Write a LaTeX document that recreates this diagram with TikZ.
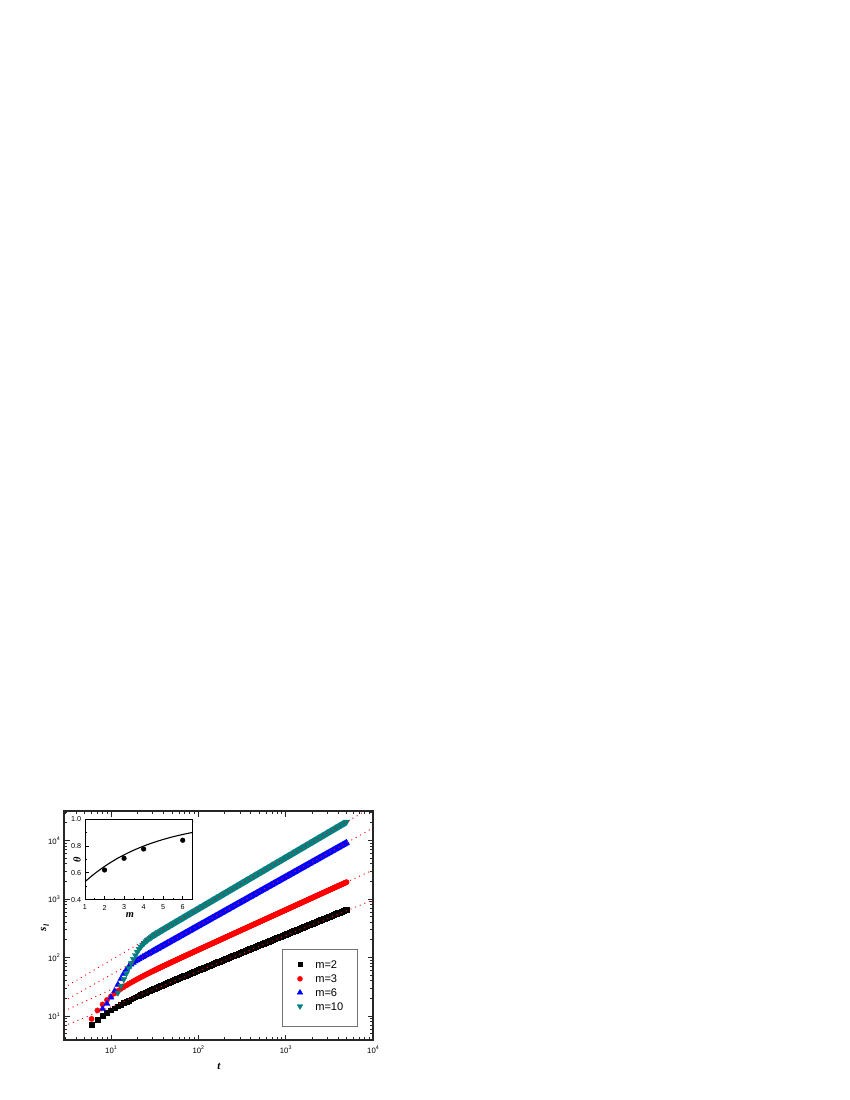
\documentclass[tikz,border=0pt]{standalone}
\usepackage{fontspec}
\usetikzlibrary{plotmarks}
\setmainfont{Liberation Sans}
\newfontfamily\lserif{Liberation Serif}
\definecolor{tealc}{RGB}{0,128,128}
\newcommand\tenp[1]{10\raisebox{0.42em}{\fontsize{3.8}{4}\selectfont #1}}
\tikzset{
  axisline/.style={line width=0.8pt, draw=black!85},
  tickline/.style={line width=0.6pt, draw=black!85},
  sqm/.style={only marks, mark=square*, mark size=1.7pt, mark options={draw=black, fill=black, line width=0.3pt}},
  cim/.style={only marks, mark=*, mark size=1.9pt, mark options={draw=red, fill=red, line width=0.3pt}},
  tum/.style={only marks, mark=triangle*, mark size=2.5pt, mark options={draw=blue, fill=blue, line width=0.3pt}},
  tdm/.style={only marks, mark=triangle*, mark size=2.5pt, mark options={draw=tealc, fill=tealc, line width=0.3pt, rotate=180}},
  fitline/.style={red, line width=1pt, dash pattern=on 0.01pt off 3.6pt, line cap=round},
  ticklab/.style={inner sep=0pt, font=\fontsize{5.6}{6}\selectfont},
  inlab/.style={inner sep=0pt, font=\fontsize{5.2}{6}\selectfont},
  leglab/.style={inner sep=0pt, anchor=west, font=\fontsize{8}{9}\selectfont},
  axlab/.style={inner sep=0pt, font=\lserif\bfseries\itshape\fontsize{8}{9}\selectfont},
}
\begin{document}
\begin{tikzpicture}[x=0.01in,y=-0.01in,
  declare function={
    X(\l)=111+87.33*(\l-1);
    Y(\s)=1016-58.5*(\s-1);
    IX(\m)=85+19.54*(\m-1);
    IY(\q)=899.7-134.5*(\q-0.4);
    sp(\z,\c)=max(\z,0)+\c*ln(1+exp(-min(abs(\z)/\c,25)));
    fb(\l)=0.568+0.609*\l-0.19*exp(-(\l-0.778)/0.25);
    fr(\l)=0.7704+0.681*\l-0.35*exp(-(\l-0.778)/0.2);
    fu(\l)=0.8698+0.836*\l-sp(0.5*(1-pow(max(0.0001,(\l-0.903)/0.26),1.5)),0.11);
    fg(\l)=1.0793+0.876*\l-sp(2.6*(1.32-\l),0.14);
    th(\m)=1-0.617*exp(-0.28*\m);
  }]
\useasboundingbox (0,0) rectangle (850,1100);
\fill[white] (0,0) rectangle (850,1100);

% ---- data series ----
\path plot[sqm, samples at={6,...,30}] ({X(log10(\x))},{Y(fb(log10(\x)))});
\path plot[sqm, domain=1.49:3.699, samples=250] ({X(\x)},{Y(fb(\x))});
\path plot[cim, samples at={6,...,30}] ({X(log10(\x))},{Y(fr(log10(\x)))});
\path plot[cim, domain=1.49:3.699, samples=250] ({X(\x)},{Y(fr(\x))});
\path plot[tum, samples at={8,...,30}] ({X(log10(\x))},{Y(fu(log10(\x)))});
\path plot[tum, domain=1.49:3.699, samples=250] ({X(\x)},{Y(fu(\x))});
\path plot[tdm, samples at={12,...,30}] ({X(log10(\x))},{Y(fg(log10(\x)))});
\path plot[tdm, domain=1.49:3.699, samples=250] ({X(\x)},{Y(fg(\x))});

% ---- fit lines ----
\begin{scope}
  \clip (64,811) rectangle (373,1040);
  \coordinate (b1) at ({X(0.462)},{Y(0.829)}); \coordinate (b2) at ({X(4)},{Y(0.829+0.609*3.538)});
  \coordinate (r1) at ({X(0.462)},{Y(1.085)}); \coordinate (r2) at ({X(4)},{Y(1.085+0.681*3.538)});
  \coordinate (u1) at ({X(0.462)},{Y(1.256)}); \coordinate (u2) at ({X(4)},{Y(1.256+0.836*3.538)});
  \coordinate (g1) at ({X(0.462)},{Y(1.484)}); \coordinate (g2) at ({X(4)},{Y(1.484+0.876*3.538)});
  \draw[fitline] (b1) -- (b2);
  \draw[fitline] (r1) -- (r2);
  \draw[fitline] (u1) -- (u2);
  \draw[fitline] (g1) -- (g2);
\end{scope}

% ---- main frame and ticks ----
\draw[axisline] (64,811) rectangle (373,1040);
\foreach \d in {0,...,3}{\foreach \k in {2,...,9}{
  \pgfmathsetmacro{\lv}{\d+log10(\k)}
  \ifdim \lv pt > 0.47pt
    \draw[tickline] ({X(\lv)},1040) -- ++(0,-3) ({X(\lv)},811) -- ++(0,3);
  \fi
}}
\foreach \e in {1,2,3}{
  \draw[tickline] ({X(\e)},1040) -- ++(0,-5.5) ({X(\e)},811) -- ++(0,5.5);
}
\foreach \d in {0,...,4}{\foreach \k in {2,...,9}{
  \pgfmathsetmacro{\lv}{\d+log10(\k)}
  \ifdim \lv pt > 0.595pt \ifdim \lv pt < 4.5pt
    \draw[tickline] (64,{Y(\lv)}) -- ++(3,0) (373,{Y(\lv)}) -- ++(-3,0);
  \fi\fi
}}
\foreach \e in {1,2,3,4}{
  \draw[tickline] (64,{Y(\e)}) -- ++(5.5,0) (373,{Y(\e)}) -- ++(-5.5,0);
}
\foreach \e in {1,2,3,4}{
  \node[ticklab, anchor=base] (xl\e) at ({X(\e)},1053) {\tenp{\e}};
  \node[ticklab, anchor=base east] (yl\e) at (60,{Y(\e)+3.5}) {\tenp{\e}};
}
\node[axlab] (xlab) at (219,1066) {t};
\node[axlab, rotate=90] (ylab) at (45,928) {s\raisebox{-0.25em}{\fontsize{5.5}{6}\selectfont l}};

% ---- inset ----
\fill[white] (85,819) rectangle (192.7,899.7);
\begin{scope}
  \clip (85,819) rectangle (192.7,899.7);
  \draw[line width=0.8pt] plot[domain=1:6.5, samples=60] ({IX(\x)},{IY(th(\x))});
\end{scope}
\foreach \m/\q in {2/0.621,3/0.708,4/0.777,6/0.842}{
  \fill (({IX(\m)},{IY(\q)}) circle[radius=1.9pt];
}
\draw[line width=0.7pt] (85,819) rectangle (192.7,899.7);
\foreach \m in {1,...,6}{
  \draw[line width=0.5pt] ({IX(\m)},899.7) -- ++(0,-3.5);
  \node[inlab] (ix\m) at ({IX(\m)},907.5) {\m};
}
\foreach \m in {1.5,2.5,3.5,4.5,5.5}{
  \draw[line width=0.5pt] ({IX(\m)},899.7) -- ++(0,-2);
}
\foreach \q in {0.4,0.6,0.8,1.0}{
  \draw[line width=0.5pt] (85,{IY(\q)}) -- ++(3.5,0);
  \node[inlab, anchor=east] at (81.5,{IY(\q)}) {\q};
}
\foreach \q in {0.5,0.7,0.9}{
  \draw[line width=0.5pt] (85,{IY(\q)}) -- ++(2,0);
}
\node[axlab, font=\lserif\bfseries\itshape\fontsize{7.5}{8}\selectfont] (mlab) at (130,915) {m};
\node[axlab, rotate=90, font=\lserif\bfseries\itshape\fontsize{7.5}{8}\selectfont] (tlab) at (77,860) {θ};

% ---- legend ----
\draw[fill=white, draw=black!55, line width=0.6pt] (282.3,949.3) rectangle (357.3,1026.7);
\path plot[sqm, mark size=1.55pt] coordinates {(300,964.3)};
\path plot[cim, mark size=1.8pt] coordinates {(300,978.8)};
\path plot[tum, mark size=2.3pt] coordinates {(300,992.5)};
\path plot[tdm, mark size=2.3pt] coordinates {(300,1006.3)};
\node[leglab] (l1) at (315,964.3) {m=2};
\node[leglab] (l2) at (315,978.8) {m=3};
\node[leglab] (l3) at (315,992.5) {m=6};
\node[leglab] (l4) at (315,1006.3) {m=10};
\end{tikzpicture}
\end{document}
